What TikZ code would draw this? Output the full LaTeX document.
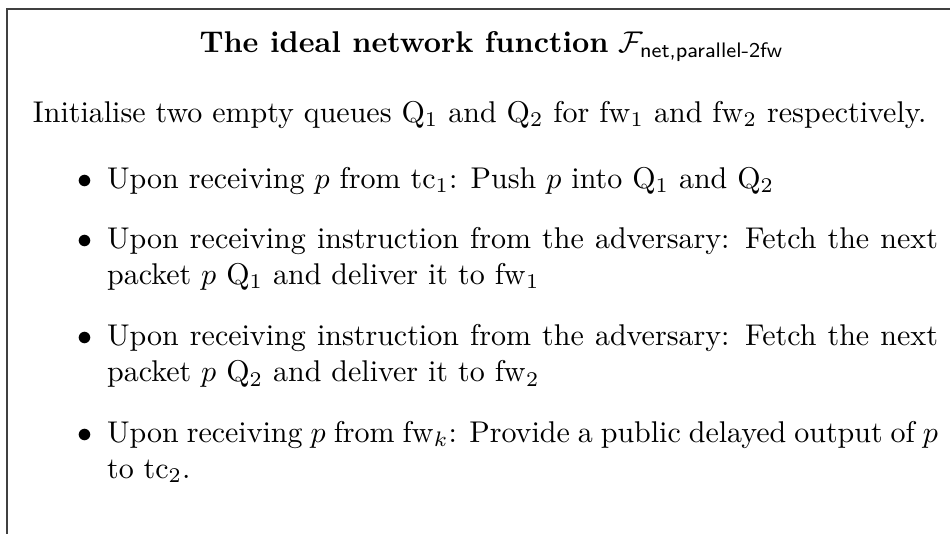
\documentclass[tikz,border=0pt]{standalone}
\usepackage{amsmath}
\tikzset{
  frameline/.style={draw=black!75, line width=0.5pt},
  txt/.style={anchor=base west, inner sep=0pt, outer sep=0pt},
  itemtxt/.style={anchor=base west, inner sep=0pt, outer sep=0pt, text width=277pt, align=justify},
  bul/.style={anchor=base east, inner sep=0pt, outer sep=0pt}
}
\begin{document}
\begin{tikzpicture}[x=1pt,y=1pt]
\useasboundingbox (0,0) rectangle (316.7,178);
\clip (0,0) rectangle (316.7,178);
\coordinate (fa) at (2.3,-20);
\coordinate (fb) at (340,175);
\draw[frameline] (fa) |- (fb);
\node[anchor=base, inner sep=0pt] (title) at (163.9,160.4) {\textbf{The ideal network function} $\mathcal{F}_{\text{\sffamily net,parallel-2fw}}$};
\node[txt] (intro) at (11,137.3) {Initialise two empty queues $\mathrm{Q}_1$ and $\mathrm{Q}_2$ for $\mathrm{fw}_1$ and $\mathrm{fw}_2$ respectively.};
\node[bul] (b1) at (30.7,115.3) {$\bullet$};
\node[itemtxt] (i1) at (35.7,115.3) {Upon receiving $p$ from $\mathrm{tc}_1$: Push $p$ into $\mathrm{Q}_1$ and $\mathrm{Q}_2$};
\node[bul] (b2) at (30.7,95.3) {$\bullet$};
\node[itemtxt] (i2) at (35.7,95.3) {Upon receiving instruction from the adversary: Fetch the next packet $p$ $\mathrm{Q}_1$ and deliver it to $\mathrm{fw}_1$};
\node[bul] (b3) at (30.7,62.8) {$\bullet$};
\node[itemtxt] (i3) at (35.7,62.8) {Upon receiving instruction from the adversary: Fetch the next packet $p$ $\mathrm{Q}_2$ and deliver it to $\mathrm{fw}_2$};
\node[bul] (b4) at (30.7,30.5) {$\bullet$};
\node[itemtxt] (i4) at (35.7,30.5) {Upon receiving $p$ from $\mathrm{fw}_k$: Provide a public delayed output of $p$\linebreak to $\mathrm{tc}_2$.};
\end{tikzpicture}
\end{document}
